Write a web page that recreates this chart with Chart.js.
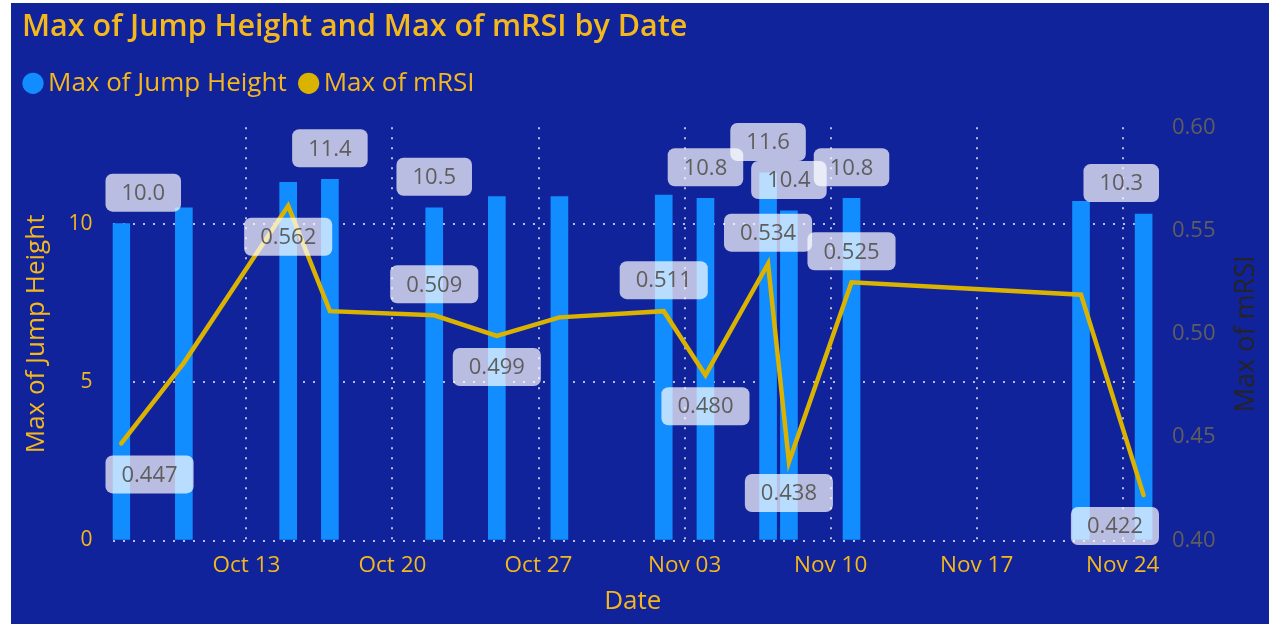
<!DOCTYPE html>
<html lang="en">
<head>
<meta charset="UTF-8">
<title>Max of Jump Height and Max of mRSI by Date</title>
<style>
    body {
        margin: 0;
        background: #ffffff;
        font-family: "Open Sans", sans-serif;
    }

    .panel {
        position: absolute;
        left: 11px;
        top: 3px;
        width: 1258px;
        height: 621px;
        background: #11239a;
    }
</style>
</head>
<body>

<div class="panel">
    <canvas id="myChart"></canvas>
</div>

<script src="https://cdn.jsdelivr.net/npm/chart.js"></script>
<script>
    // data
    const dates = ['2024-10-07', '2024-10-10', '2024-10-15', '2024-10-17', '2024-10-22', '2024-10-25', '2024-10-28',
                   '2024-11-02', '2024-11-04', '2024-11-07', '2024-11-08', '2024-11-11', '2024-11-22', '2024-11-25'];
    const jumpHeight = [10.0, 10.5, 11.3, 11.4, 10.5, 10.85, 10.85, 10.9, 10.8, 11.6, 10.4, 10.8, 10.7, 10.3];
    const mRSI = [0.447, 0.486, 0.562, 0.511, 0.509, 0.499, 0.508, 0.511, 0.480, 0.534, 0.438, 0.525, 0.519, 0.422];
    const weekTicks = ['2024-10-13', '2024-10-20', '2024-10-27', '2024-11-03', '2024-11-10', '2024-11-17', '2024-11-24'];
    const leftTicks = [0, 5, 10];
    const rightTicks = [0.40, 0.45, 0.50, 0.55, 0.60];
    const monthNames = ['Jan', 'Feb', 'Mar', 'Apr', 'May', 'Jun', 'Jul', 'Aug', 'Sep', 'Oct', 'Nov', 'Dec'];

    // which points Power BI kept a label on (1 = below the point, -1 = above)
    const barLabelAt = [0, 3, 4, 8, 9, 10, 11, 13];
    const rsiLabelSide = {0: 1, 2: 1, 4: -1, 5: 1, 7: -1, 8: 1, 9: -1, 10: 1, 11: -1, 13: 1};

    const orange = '#f5b81c';
    const gridColor = 'rgba(255,255,255,0.7)';

    function toDay(s) {
        const p = s.split('-');
        return Date.UTC(+p[0], +p[1] - 1, +p[2]) / 86400000;
    }

    function fmtDay(v) {
        const d = new Date(v * 86400000);
        return monthNames[d.getUTCMonth()] + ' ' + String(d.getUTCDate()).padStart(2, '0');
    }

    const firstWeek = toDay(weekTicks[0]);

    const valueLabels = {
        id: 'valueLabels',
        beforeLayout(chart) {
            // extra room between legend and plot
            const lg = chart.legend;
            if (lg && !lg._gapDone) {
                const upd = lg.update;
                lg.update = function () {
                    upd.apply(this, arguments);
                    this.height += 21;
                };
                lg._gapDone = true;
            }
        },
        afterLayout(chart) {
            if (chart.titleBlock) chart.titleBlock.left = 11;
        },
        afterDatasetsDraw(chart) {
            const ctx = chart.ctx;
            const area = chart.chartArea;
            ctx.save();
            ctx.font = '22px "Open Sans"';
            ctx.textAlign = 'center';
            ctx.textBaseline = 'middle';

            function box(text, x, cy) {
                const w = ctx.measureText(text).width + 32;
                const h = 38;
                let left = x - w / 2;
                left = Math.max(area.left - 7, Math.min(left, area.right + 6 - w));
                ctx.fillStyle = 'rgba(255,255,255,0.7)';
                ctx.beginPath();
                ctx.roundRect(left, cy - h / 2, w, h, 7);
                ctx.fill();
                ctx.fillStyle = '#605e5c';
                ctx.fillText(text, left + w / 2, cy + 1);
            }

            const bars = chart.getDatasetMeta(0).data;
            barLabelAt.forEach(i => box(jumpHeight[i].toFixed(1), bars[i].x, bars[i].y - 31));

            const pts = chart.getDatasetMeta(1).data;
            Object.keys(rsiLabelSide).forEach(k => {
                const i = +k;
                box(mRSI[i].toFixed(3), pts[i].x, pts[i].y + 31 * rsiLabelSide[k]);
            });

            // right axis title reads bottom to top
            ctx.translate(1235, (area.top + area.bottom) / 2);
            ctx.rotate(-Math.PI / 2);
            ctx.font = '27px "Open Sans"';
            ctx.fillStyle = '#252423';
            ctx.fillText('Max of mRSI', 0, 0);
            ctx.restore();
        }
    };

    const myChart = new Chart(document.getElementById('myChart'), {
        data: {
            datasets: [{
                type: 'bar',
                label: 'Max of Jump Height',
                data: dates.map((d, i) => ({x: toDay(d), y: jumpHeight[i]})),
                backgroundColor: '#118dff',
                borderWidth: 0,
                barThickness: 17,
                yAxisID: 'y',
                order: 2
            }, {
                type: 'line',
                label: 'Max of mRSI',
                data: dates.map((d, i) => ({x: toDay(d), y: mRSI[i]})),
                borderColor: '#d9b300',
                backgroundColor: '#d9b300',
                borderWidth: 4.5,
                borderCapStyle: 'round',
                pointRadius: 0,
                yAxisID: 'y1',
                order: 1
            }]
        },
        options: {
            responsive: true,
            maintainAspectRatio: false,
            animation: false,
            layout: {padding: 0},
            plugins: {
                title: {
                    display: true,
                    text: 'Max of Jump Height and Max of mRSI by Date',
                    align: 'start',
                    color: orange,
                    font: {family: '"Open Sans"', size: 30.5, weight: '600'},
                    padding: {top: 5.2, bottom: 4.7}
                },
                legend: {
                    align: 'start',
                    labels: {
                        usePointStyle: true,
                        pointStyle: 'circle',
                        boxWidth: 4,
                        boxHeight: 15,
                        padding: 20,
                        color: orange,
                        font: {family: '"Open Sans"', size: 26},
                        sort: (a, b) => a.datasetIndex - b.datasetIndex,
                        generateLabels: chart => Chart.defaults.plugins.legend.labels.generateLabels(chart)
                            .map(l => Object.assign(l, {lineWidth: 0}))
                    }
                },
                tooltip: {enabled: false}
            },
            scales: {
                x: {
                    type: 'linear',
                    min: firstWeek - 6.42,
                    max: firstWeek + 43.45,
                    offset: false,
                    afterBuildTicks: scale => { scale.ticks = weekTicks.map(d => ({value: toDay(d)})); },
                    afterFit: scale => { scale.height = 83.5; },
                    ticks: {
                        callback: v => fmtDay(v),
                        color: orange,
                        font: {family: '"Open Sans"', size: 22.5},
                        padding: 12,
                        maxRotation: 0
                    },
                    grid: {color: gridColor, lineWidth: 2, drawTicks: false, offset: false},
                    border: {display: false, dash: [2, 8]},
                    title: {
                        display: true,
                        text: 'Date',
                        color: orange,
                        font: {family: '"Open Sans"', size: 26},
                        padding: {top: 0, bottom: 6.4}
                    }
                },
                y: {
                    position: 'left',
                    min: 0,
                    max: 13.04,
                    afterBuildTicks: scale => { scale.ticks = leftTicks.map(v => ({value: v})); },
                    afterFit: scale => {
                        scale.width = 101.5;
                        scale.paddingTop = 124.3;
                    },
                    ticks: {
                        color: orange,
                        font: {family: '"Open Sans"', size: 21},
                        padding: 20
                    },
                    grid: {color: gridColor, lineWidth: 2, drawTicks: false},
                    border: {display: false, dash: [2, 8]},
                    title: {
                        display: true,
                        text: 'Max of Jump Height',
                        color: orange,
                        font: {family: '"Open Sans"', size: 26},
                        padding: {top: 10.4, bottom: 0}
                    }
                },
                y1: {
                    position: 'right',
                    min: 0.40,
                    max: 0.60,
                    afterBuildTicks: scale => { scale.ticks = rightTicks.map(v => ({value: v})); },
                    afterFit: scale => { scale.width = 116; },
                    ticks: {
                        color: '#605e5c',
                        font: {family: '"Open Sans"', size: 22},
                        padding: 19,
                        callback: v => v.toFixed(2)
                    },
                    grid: {display: false, drawTicks: false},
                    border: {display: false}
                }
            }
        },
        plugins: [valueLabels]
    });
</script>

</body>
</html>
